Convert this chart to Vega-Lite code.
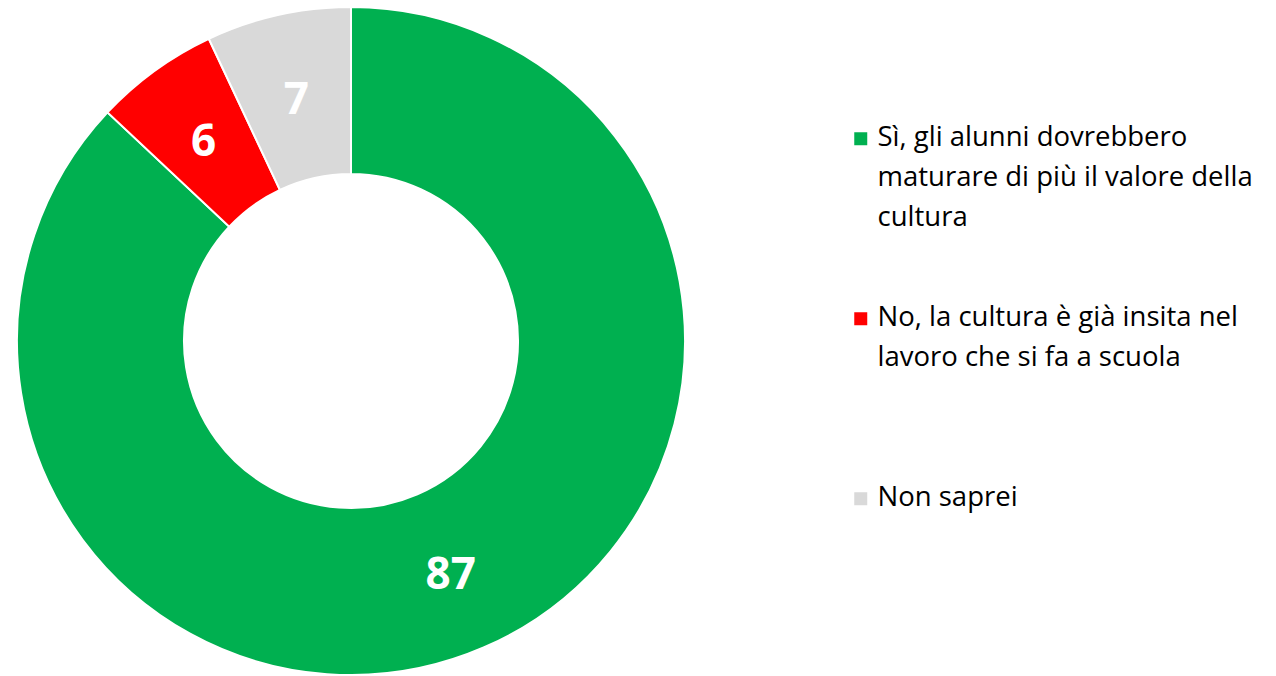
{
  "$schema": "https://vega.github.io/schema/vega-lite/v6.json",
  "width": 702,
  "height": 670,
  "autosize": "none",
  "padding": {"left": 0, "top": 6, "right": 574, "bottom": 0},
  "background": "white",
  "config": {
    "view": {"stroke": null},
    "style": {"guide-label": {"lineHeight": 40, "dy": -15}}
  },
  "data": {
    "values": [
      {"risposta": "Sì, gli alunni dovrebbero maturare di più il valore della cultura", "valore": 87, "ordine": 1},
      {"risposta": "No, la cultura è già insita nel lavoro che si fa a scuola", "valore": 6, "ordine": 2},
      {"risposta": "Non saprei", "valore": 7, "ordine": 3}
    ]
  },
  "encoding": {
    "theta": {"field": "valore", "type": "quantitative", "stack": true},
    "order": {"field": "ordine", "type": "quantitative"}
  },
  "layer": [
    {
      "mark": {"type": "arc", "innerRadius": 167, "outerRadius": 334, "stroke": "white", "strokeWidth": 2},
      "encoding": {
        "color": {
          "field": "risposta",
          "type": "nominal",
          "scale": {
            "domain": [
              "Sì, gli alunni dovrebbero maturare di più il valore della cultura",
              "No, la cultura è già insita nel lavoro che si fa a scuola",
              "Non saprei"
            ],
            "range": ["#00B050", "#FF0000", "#D9D9D9"]
          },
          "legend": {
            "title": null,
            "orient": "none",
            "legendX": 847,
            "legendY": 119,
            "symbolType": "square",
            "symbolSize": 169,
            "symbolStrokeWidth": 0,
            "symbolOpacity": 1,
            "labelFont": "Open Sans",
            "labelFontSize": 27.5,
            "labelColor": "black",
            "labelLimit": 500,
            "labelOffset": 3,
            "rowPadding": 71,
            "gridAlign": "all",
            "labelBaseline": "top",
            "labelExpr": "indexof(datum.label, 'Sì') == 0 ? ['Sì, gli alunni dovrebbero', 'maturare di più il valore della', 'cultura'] : indexof(datum.label, 'No,') == 0 ? ['No, la cultura è già insita nel', 'lavoro che si fa a scuola'] : datum.label"
          }
        }
      }
    },
    {
      "mark": {"type": "text", "radius": 251, "font": "Open Sans", "fontWeight": "bold", "fontSize": 44, "dy": 5},
      "encoding": {
        "text": {"field": "valore", "type": "quantitative"},
        "color": {"value": "white"}
      }
    }
  ]
}
